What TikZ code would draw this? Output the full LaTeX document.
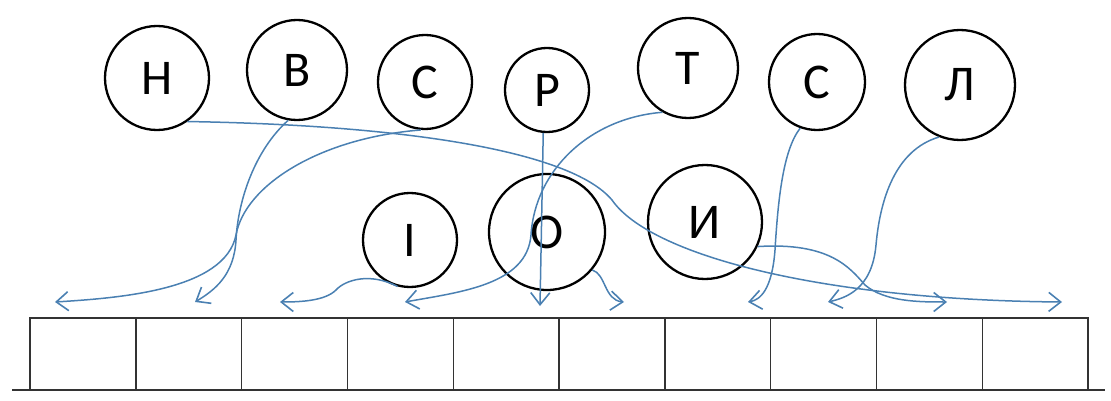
\documentclass[tikz,border=0pt]{standalone}
\usepackage{fontspec}
\setmainfont{Carlito}
\usetikzlibrary{arrows.meta}

\definecolor{pen}{RGB}{74,128,178}

\tikzset{
  letter/.style={circle, draw=black, line width=2.3pt, inner sep=0pt,
    font=\fontsize{50}{54}\selectfont},
  cell/.style={draw=black!80, line width=1.4pt, minimum width=105.8pt,
    minimum height=72pt, inner sep=0pt},
  move/.style={pen, line width=1.5pt, -{Straight Barb[length=12pt,width=19pt,line width=1.6pt]}}
}

\begin{document}
\begin{tikzpicture}[x=1pt, y=-1pt]
  \useasboundingbox (0,0) rectangle (1111,401);
  % letters on top
  \node[letter, minimum size=104pt] (n) at (157,78) {Н};
  \node[letter, minimum size=100pt] (b) at (297,70) {В};
  \node[letter, minimum size=94pt] (c) at (425,82) {С};
  \node[letter, minimum size=84pt] (p) at (547,90) {Р};
  \node[letter, minimum size=100pt] (t) at (688,68) {Т};
  \node[letter, minimum size=96pt] (s) at (817,82) {С};
  \node[letter, minimum size=110pt] (l) at (960,85) {Л};
  % letters in the middle row
  \node[letter, minimum size=94pt] (i) at (410,240) {І};
  \node[letter, minimum size=116pt] (o) at (547,232) {О};
  \node[letter, minimum size=114pt] (y) at (705,222) {И};
  % the strip of cells
  \foreach \k in {0,...,9}
    \node[cell] (cell\k) at ({82.9+105.8*\k},354) {};
  \draw[black!80, line width=1.4pt] (12,390) -- (1105,390);
  % where the arrows end
  \coordinate (e1) at (55,302);
  \coordinate (e2) at (195,302);
  \coordinate (e3) at (280,302);
  \coordinate (e4) at (405,302);
  \coordinate (e5) at (540,306);
  \coordinate (e6) at (624,302);
  \coordinate (e7) at (748,302);
  \coordinate (e8) at (828,302);
  \coordinate (e9) at (947,302);
  \coordinate (e10) at (1062,302);
  % the arrows
  \draw[move] (n.-55) .. controls (400,125) and (570,150) .. (612,200)
    .. controls (650,255) and (820,300) .. (e10);
  \draw[move] (b.-100) .. controls (255,150) and (238,200) .. (236,240)
    .. controls (234,275) and (215,290) .. (e2);
  \draw[move] (c.-95) .. controls (320,138) and (245,185) .. (236,235)
    .. controls (225,290) and (120,298) .. (e1);
  \draw[move] (p.-95) -- (e5);
  \draw[move] (t.-120) .. controls (590,118) and (535,170) .. (531,235)
    .. controls (527,285) and (460,292) .. (e4);
  \draw[move] (i.-105) .. controls (370,272) and (345,280) .. (336,290)
    .. controls (325,301) and (300,302) .. (e3);
  \draw[move] (o.-40) .. controls (606,274) and (604,300) .. (e6);
  \draw[move] (s.-110) .. controls (783,150) and (778,200) .. (775,250)
    .. controls (772,290) and (760,300) .. (e7);
  \draw[move] (l.-112) .. controls (895,150) and (880,200) .. (876,245)
    .. controls (872,290) and (845,298) .. (e8);
  \draw[move] (y.-25) .. controls (830,242) and (850,268) .. (865,285)
    .. controls (885,302) and (920,302) .. (e9);
\end{tikzpicture}
\end{document}
